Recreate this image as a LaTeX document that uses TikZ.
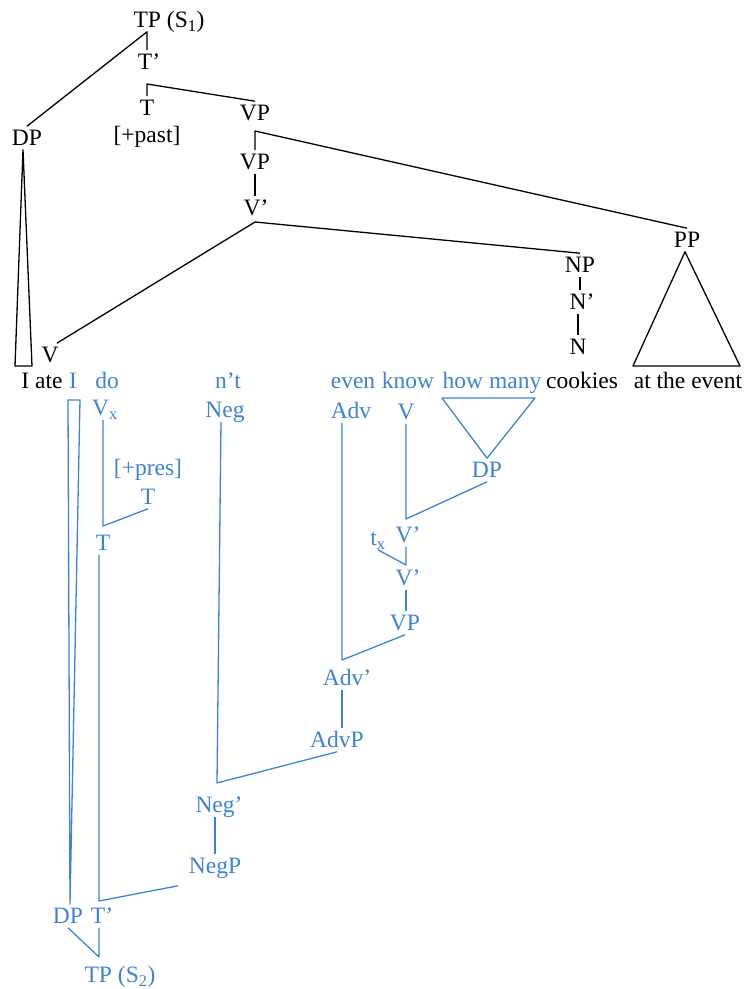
\documentclass[tikz,border=0pt]{standalone}
\usepackage{fontspec}
\setmainfont{Liberation Serif}
\usepackage{tikz}
\definecolor{treeblue}{RGB}{62,130,212}

\begin{document}
\begin{tikzpicture}[x=1pt,y=-1pt, every node/.style={inner sep=0pt,outer sep=4pt,text height=15.6pt,text depth=0pt,font=\fontsize{23.5}{28}\selectfont}, bl/.style={text=treeblue}, br/.style={line width=1.3pt,line join=round}, bbr/.style={br,draw=treeblue}]
\useasboundingbox (0,0) rectangle (744,989);
\node (tp1) at (169,20) {TP (S\textsubscript{1})};
\node (tb1) at (149,62) {T’};
\node (t1) at (147,108) {T};
\node (past) at (147,135) {[+past]};
\node (dp1) at (27,138) {DP};
\node (vp1) at (255,113) {VP};
\node (vp2) at (255,162) {VP};
\node (vb1) at (256,208) {V’};
\node (v1) at (50,355) {V};
\node (np) at (580,265) {NP};
\node (nb) at (582,302) {N’};
\node (n) at (578,347) {N};
\node (pp) at (687,240) {PP};
\node (iate) at (42,381) {I ate};
\node[bl] (iw) at (73,381) {I};
\node[bl] (dow) at (107,381) {do};
\node[bl] (ntw) at (228,381) {n’t};
\node[bl] (evw) at (353,381) {even};
\node[bl] (knw) at (408,381) {know};
\node[bl] (hmw) at (492,381) {how many};
\node (ckw) at (582,381) {cookies};
\node (atw) at (688,381) {at the event};
\node[bl] (vx) at (105,408) {V\textsubscript{x}};
\node[bl] (pres) at (148,468) {[+pres]};
\node[bl] (t2) at (148,497) {T};
\node[bl] (t3) at (103,543) {T};
\node[bl] (neg) at (225,410) {Neg};
\node[bl] (adv) at (351,411) {Adv};
\node[bl] (v2) at (406,412) {V};
\node[bl] (dp2) at (487,470) {DP};
\node[bl] (tx) at (378,538) {t\textsubscript{x}};
\node[bl] (vb2) at (408,535) {V’};
\node[bl] (vb3) at (408,578) {V’};
\node[bl] (vp3) at (405,623) {VP};
\node[bl] (advb) at (347,678) {Adv’};
\node[bl] (advp) at (337,740) {AdvP};
\node[bl] (negb) at (219,805) {Neg’};
\node[bl] (negp) at (215,866) {NegP};
\node[bl] (dp3) at (68,916) {DP};
\node[bl] (tb2) at (102,916) {T’};
\node[bl] (tp2) at (120,975) {TP (S\textsubscript{2})};
\coordinate (j1) at (tp1.south -| t1); \coordinate (j2) at (147,84); \coordinate (j3) at (255,131); \coordinate (j4) at (255,222);
\draw[br] (tb1.north -| j1) -- (j1) -- (dp1.north); \draw[br] (t1.north) -- (j2) -- (vp1.north);
\draw[br] (vp2.north) -- (j3) -- (pp.north); \draw[br] (vp2.south) -- (vp2.south |- vb1.north);
\draw[br] (v1.60) -- (j4) -- (np.north); \draw[br] (np.south) -- (np.south |- nb.north); \draw[br] (nb.south -| n) -- (n.north);
\draw[br] ([xshift=-4pt]dp1.south) -- (15,366) -- (32,366) -- cycle;
\draw[br] ([xshift=-2pt]pp.south) -- (633,366) -- (740,366) -- cycle;
\coordinate (j5) at (103,526); \coordinate (j6) at (99,901); \coordinate (j7) at (217,783); \coordinate (j8) at (342,660);
\coordinate (j9) at (406,519); \coordinate (j10) at (406,565); \coordinate (j11) at (99,957);
\draw[bbr] (68,400) -- (80,400) -- ([xshift=2pt]dp3.north) -- cycle;
\draw[bbr] (j5 |- vx.south) -- (j5) -- (t2.south); \draw[bbr] (t3.south -| j6) -- (j6) -- ([shift={(-7,8)}]negp.south west);
\draw[bbr] ([xshift=-4pt]neg.south) -- (j7) -- (advp.south); \draw[bbr] (negb.south -| negp) -- (negp.north);
\draw[bbr] (j8 |- adv.south) -- (j8) -- (vp3.south); \draw[bbr] (advb.south -| j8) -- (j8 |- advp.north);
\draw[bbr] (j9 |- v2.south) -- (j9) -- (dp2.south); \draw[bbr] (442,398) -- (535,398) -- (dp2.north) -- cycle;
\draw[bbr] (tx.south) -- (j10) -- (j10 |- vb2.south); \draw[bbr] (vb3.south -| j10) -- (j10 |- vp3.north);
\draw[bbr] (dp3.south) -- (j11) -- (j11 |- tb2.south);
\end{tikzpicture}
\end{document}
